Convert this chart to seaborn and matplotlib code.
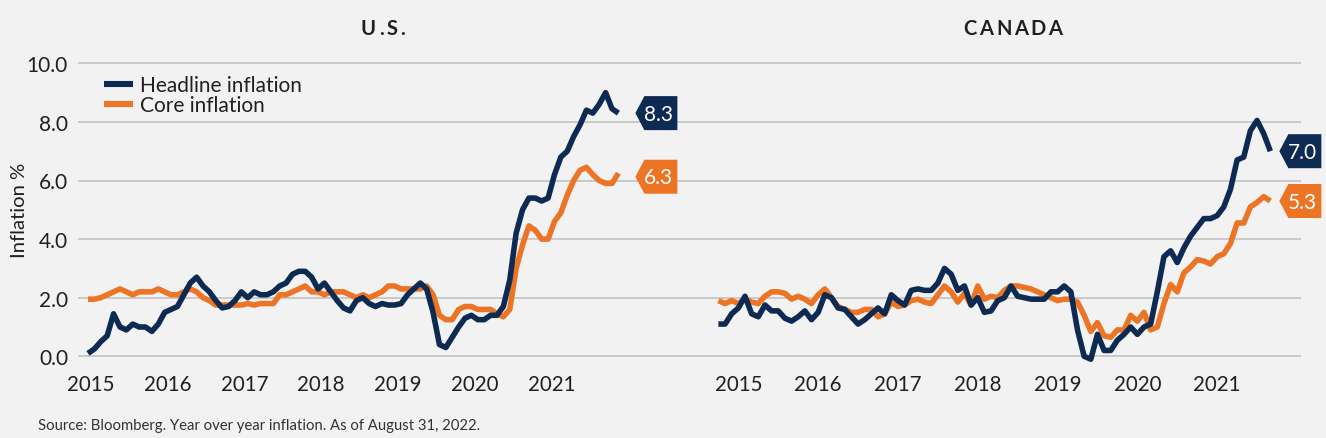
import numpy as np
import pandas as pd
import matplotlib
matplotlib.use("Agg")
import matplotlib.pyplot as plt
import matplotlib.transforms as mtransforms
from matplotlib.patches import Polygon
from matplotlib.lines import Line2D
import seaborn as sns

# ---------------- data (monthly, Sep 2015 - Aug 2022) ----------------
years = ["2015", "2016", "2017", "2018", "2019", "2020", "2021"]
series_names = ["Headline inflation", "Core inflation"]
panel_titles = ["U.S.", "CANADA"]

us_headline = [0.1, 0.25, 0.5, 0.7,
               1.45, 1.0, 0.9, 1.1, 1.0, 1.0, 0.85, 1.1, 1.5, 1.6, 1.7, 2.1,
               2.5, 2.7, 2.4, 2.2, 1.9, 1.65, 1.7, 1.9, 2.2, 2.0, 2.2, 2.1,
               2.1, 2.2, 2.4, 2.5, 2.8, 2.9, 2.9, 2.7, 2.3, 2.5, 2.2, 1.9,
               1.65, 1.55, 1.9, 2.0, 1.8, 1.7, 1.8, 1.75, 1.75, 1.8, 2.1, 2.3,
               2.5, 2.3, 1.5, 0.4, 0.3, 0.65, 1.0, 1.3, 1.4, 1.25, 1.25, 1.4,
               1.4, 1.7, 2.6, 4.2, 5.0, 5.4, 5.4, 5.3, 5.4, 6.2, 6.8, 7.0,
               7.5, 7.9, 8.4, 8.3, 8.6, 9.0, 8.45, 8.3]
us_core = [1.95, 1.95, 2.0, 2.1,
           2.2, 2.3, 2.2, 2.1, 2.2, 2.2, 2.2, 2.3, 2.2, 2.1, 2.1, 2.2,
           2.3, 2.2, 2.0, 1.9, 1.75, 1.75, 1.75, 1.75, 1.75, 1.8, 1.75, 1.8,
           1.8, 1.8, 2.1, 2.1, 2.2, 2.3, 2.4, 2.2, 2.2, 2.1, 2.2, 2.2,
           2.2, 2.1, 2.0, 2.1, 2.0, 2.1, 2.2, 2.4, 2.4, 2.3, 2.3, 2.3,
           2.3, 2.4, 2.1, 1.4, 1.25, 1.25, 1.6, 1.7, 1.7, 1.6, 1.6, 1.6,
           1.45, 1.35, 1.6, 3.0, 3.8, 4.45, 4.3, 4.0, 4.0, 4.6, 4.9, 5.5,
           6.0, 6.35, 6.45, 6.2, 6.0, 5.9, 5.9, 6.25]
ca_headline = [1.1, 1.1, 1.45, 1.65,
               2.05, 1.45, 1.35, 1.75, 1.55, 1.55, 1.3, 1.2, 1.35, 1.55, 1.25, 1.5,
               2.1, 2.0, 1.65, 1.6, 1.35, 1.1, 1.25, 1.45, 1.65, 1.45, 2.1, 1.9,
               1.75, 2.25, 2.3, 2.25, 2.25, 2.5, 3.0, 2.8, 2.25, 2.4, 1.75, 2.0,
               1.5, 1.55, 1.9, 2.0, 2.4, 2.05, 2.0, 1.95, 1.95, 1.95, 2.2, 2.2,
               2.4, 2.2, 0.9, 0.0, -0.1, 0.75, 0.2, 0.2, 0.55, 0.75, 1.0, 0.75,
               1.0, 1.1, 2.2, 3.4, 3.6, 3.2, 3.7, 4.1, 4.4, 4.7, 4.7, 4.8,
               5.1, 5.7, 6.7, 6.8, 7.7, 8.05, 7.6, 7.0]
ca_core = [1.9, 1.8, 1.9, 1.8,
           1.95, 1.85, 1.8, 2.05, 2.2, 2.2, 2.15, 1.95, 2.05, 1.95, 1.8, 2.1,
           2.3, 2.0, 1.7, 1.6, 1.5, 1.5, 1.6, 1.6, 1.35, 1.45, 1.85, 1.7,
           1.75, 1.9, 1.95, 1.85, 1.8, 2.1, 2.4, 2.2, 1.85, 2.15, 1.75, 2.4,
           1.95, 2.05, 2.0, 2.25, 2.4, 2.4, 2.35, 2.3, 2.2, 2.1, 2.0, 1.9,
           1.95, 1.95, 1.85, 1.4, 0.85, 1.15, 0.7, 0.65, 0.9, 0.9, 1.4, 1.2,
           1.5, 0.9, 1.0, 1.8, 2.45, 2.2, 2.85, 3.05, 3.3, 3.25, 3.15, 3.4,
           3.5, 3.85, 4.55, 4.55, 5.1, 5.25, 5.45, 5.3]
badge_values = [[8.3, 6.3], [7.0, 5.3]]

ylabel = "Inflation %"
source = "Source: Bloomberg. Year over year inflation. As of August 31, 2022."

# ---------------- style ----------------
NAVY = "#0c2a52"
ORANGE = "#ec7425"
BG = "#f2f2f2"
GRID = "#c6c6c6"
TXT = "#231f20"

sns.set_theme(style="white", rc={"axes.facecolor": BG, "figure.facecolor": BG})
plt.rcParams["font.family"] = ["Lato", "DejaVu Sans"]

W, H = 1326, 439
fig = plt.figure(figsize=(W / 100, H / 100), dpi=100, facecolor=BG)

y0_px, px_per_unit = 357.3, 29.3
ylo, yhi = -0.5, 10.2
top_px = y0_px - yhi * px_per_unit
bot_px = y0_px - ylo * px_per_unit


def px_axes(l, r):
    return fig.add_axes([l / W, 1 - bot_px / H, (r - l) / W, (bot_px - top_px) / H])


axL = px_axes(78, 700)
axR = px_axes(700, 1301)

panels = [
    dict(ax=axL, head=us_headline, core=us_core, x0=88.0, ppm=6.39, left=78, right=700,
         tick_off=0.5, badge_dx=17, badge_dy=[0, -5]),
    dict(ax=axR, head=ca_headline, core=ca_core, x0=718.4, ppm=6.65, left=700, right=1301,
         tick_off=3.0, badge_dx=9, badge_dy=[0, 0]),
]

palette = {series_names[0]: NAVY, series_names[1]: ORANGE}

for k, p in enumerate(panels):
    ax = p["ax"]
    n = len(p["head"])
    df = pd.DataFrame({
        "month": np.concatenate([np.arange(n), np.arange(n)]),
        "value": np.concatenate([p["core"], p["head"]]),
        "series": [series_names[1]] * n + [series_names[0]] * n,
    })
    sns.lineplot(data=df, x="month", y="value", hue="series",
                 hue_order=[series_names[1], series_names[0]], palette=palette,
                 linewidth=4.0, ax=ax, legend=False, sort=False)
    for ln in ax.get_lines():
        ln.set_solid_joinstyle("round")
        ln.set_solid_capstyle("butt")

    xl = -(p["x0"] - p["left"]) / p["ppm"]
    xr = xl + (p["right"] - p["left"]) / p["ppm"]
    ax.set_xlim(xl, xr)
    ax.set_ylim(ylo, yhi)
    ax.set_yticks(np.arange(0, 10.1, 2))
    ax.grid(axis="y", color=GRID, linewidth=1.3)
    ax.grid(axis="x", visible=False)
    for s in ax.spines.values():
        s.set_visible(False)
    ax.set_xticks(np.arange(len(years)) * 12 + p["tick_off"])
    ax.set_xticklabels(years)
    ax.tick_params(axis="x", length=0, pad=2, labelsize=14.8, labelcolor=TXT)
    if k == 0:
        ax.set_yticklabels([f"{v:.1f}" for v in np.arange(0, 10.1, 2)])
        ax.tick_params(axis="y", length=0, pad=7.2, labelsize=15, labelcolor=TXT)
    else:
        ax.tick_params(axis="y", length=0, labelleft=False)
    ax.set_xlabel("")
    ax.set_ylabel("")

    # end-value badges
    last_x = n - 1
    for j, (val, col) in enumerate(zip(badge_values[k], [NAVY, ORANGE])):
        trans = fig.dpi_scale_trans + mtransforms.ScaledTranslation(last_x, val, ax.transData)
        dx = p["badge_dx"] / 100
        dy = p["badge_dy"][j] / 100
        hw, wd, tip = 0.17, 0.42, 0.09
        verts = [(dx, dy), (dx + tip, dy + hw), (dx + wd, dy + hw),
                 (dx + wd, dy - hw), (dx + tip, dy - hw)]
        poly = Polygon(verts, closed=True, transform=trans, facecolor=col,
                       edgecolor="none", clip_on=False, zorder=5)
        ax.add_artist(poly)
        ax.text(dx + 0.235, dy - 0.005, f"{val:.1f}", transform=trans, ha="center",
                va="center", color="white", fontsize=15, zorder=6, clip_on=False)

# legend
handles = [Line2D([], [], color=NAVY, lw=4.4, solid_capstyle="butt"),
           Line2D([], [], color=ORANGE, lw=4.4, solid_capstyle="butt")]
leg = axL.legend(handles, series_names, loc="upper left",
                 bbox_to_anchor=(104 / W, 1 - 76 / H), bbox_transform=fig.transFigure,
                 frameon=False, fontsize=15, handlelength=1.4, handletextpad=0.32,
                 labelspacing=0.02, borderpad=0, borderaxespad=0)
for t in leg.get_texts():
    t.set_color(TXT)

# titles with letter spacing
renderer = fig.canvas.get_renderer()


def spaced_text(cx, cy, s, spacing, **kw):
    widths = []
    for ch in s:
        t = fig.text(0, 0, ch, **kw)
        widths.append(t.get_window_extent(renderer).width)
        t.remove()
    total = sum(widths) + spacing * (len(s) - 1)
    x = cx - total / 2
    for ch, w in zip(s, widths):
        fig.text(x / W, 1 - cy / H, ch, ha="left", va="center", **kw)
        x += w + spacing


spaced_text(383, 29, panel_titles[0], 3.0, fontsize=14.5, fontweight="bold", color=TXT)
spaced_text(1013, 29, panel_titles[1], 2.6, fontsize=14.5, fontweight="bold", color=TXT)

fig.text(19.5 / W, 1 - 210 / H, ylabel, rotation=90, ha="center", va="center",
         fontsize=14.6, color=TXT)
fig.text(38 / W, 1 - 426 / H, source, ha="left", va="center", fontsize=10.75, color="#333333")

fig.savefig("out.png", dpi=100, facecolor=BG)
